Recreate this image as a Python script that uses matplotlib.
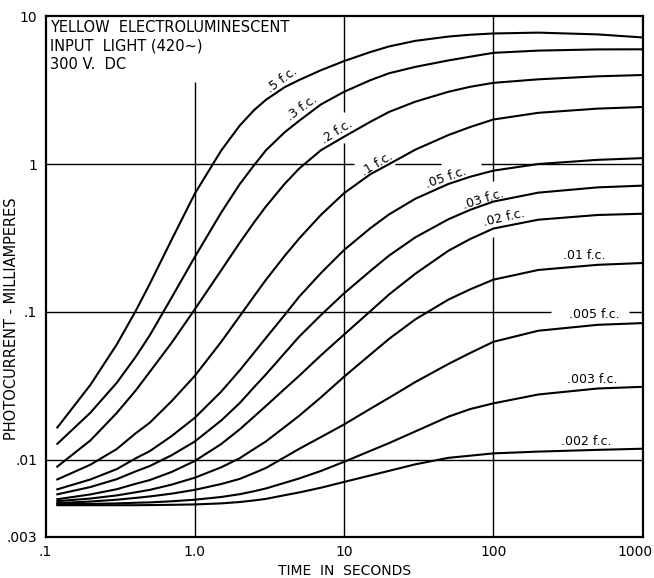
import numpy as np
import matplotlib
matplotlib.use("Agg")
import matplotlib.pyplot as plt
from matplotlib.transforms import ScaledTranslation

# time axis (seconds), shared by all curves
time_s = [0.12, 0.2, 0.3, 0.4, 0.5, 0.7, 1, 1.5, 2, 2.5, 3, 4, 5, 7, 10, 15, 20, 30, 50, 70, 100, 200, 500, 1000]

# photocurrent (mA) for each input light level
fc_05 = [0.0165, 0.0321, 0.0601, 0.1005, 0.155, 0.308, 0.63, 1.23, 1.82, 2.32, 2.72, 3.31, 3.7, 4.31, 4.97, 5.72, 6.24, 6.81, 7.28, 7.49, 7.64, 7.74, 7.53, 7.18]
fc_03 = [0.0128, 0.0208, 0.0331, 0.0493, 0.0695, 0.125, 0.235, 0.468, 0.731, 0.984, 1.24, 1.64, 1.96, 2.53, 3.08, 3.69, 4.11, 4.54, 5.02, 5.32, 5.65, 5.85, 5.96, 5.97]
fc_02 = [0.00898, 0.0135, 0.0207, 0.0292, 0.0393, 0.0618, 0.104, 0.1905, 0.2935, 0.404, 0.517, 0.734, 0.931, 1.24, 1.53, 1.93, 2.25, 2.64, 3.08, 3.33, 3.54, 3.74, 3.92, 4.0]
fc_01 = [0.00735, 0.00925, 0.0118, 0.01503, 0.0178, 0.0249, 0.0369, 0.0625, 0.0935, 0.128, 0.165, 0.239, 0.313, 0.453, 0.635, 0.853, 0.998, 1.25, 1.57, 1.78, 2.0, 2.22, 2.37, 2.43]
fc_005 = [0.0063, 0.00735, 0.00863, 0.01019, 0.01143, 0.01445, 0.0192, 0.0288, 0.0402, 0.0531, 0.0667, 0.0953, 0.1265, 0.183, 0.262, 0.368, 0.456, 0.582, 0.733, 0.82, 0.902, 1.0, 1.067, 1.096]
fc_003 = [0.00583, 0.00653, 0.00738, 0.00832, 0.00906, 0.01072, 0.01327, 0.01837, 0.02415, 0.031, 0.0378, 0.0526, 0.0679, 0.0951, 0.1334, 0.189, 0.240, 0.319, 0.423, 0.49, 0.557, 0.64, 0.695, 0.714]
fc_002 = [0.0054, 0.00582, 0.00631, 0.00686, 0.00728, 0.00826, 0.0098, 0.01274, 0.01603, 0.0196, 0.0231, 0.0301, 0.0369, 0.0508, 0.0702, 0.101, 0.131, 0.181, 0.259, 0.311, 0.366, 0.42, 0.452, 0.461]
fc_001 = [0.00524, 0.00546, 0.00573, 0.00601, 0.00625, 0.00678, 0.00755, 0.00887, 0.01023, 0.01183, 0.0133, 0.01663, 0.0198, 0.0264, 0.0364, 0.0514, 0.0656, 0.0889, 0.121, 0.142, 0.165, 0.192, 0.208, 0.214]
fc_0005 = [0.00508, 0.00521, 0.00536, 0.00551, 0.00564, 0.00589, 0.00625, 0.00684, 0.00741, 0.00813, 0.00879, 0.01039, 0.01183, 0.01422, 0.0173, 0.0221, 0.0262, 0.0335, 0.0444, 0.0527, 0.0627, 0.0745, 0.0817, 0.0839]
fc_0003 = [0.0050, 0.00502, 0.00506, 0.00511, 0.00514, 0.00523, 0.00536, 0.00559, 0.00584, 0.00612, 0.00639, 0.00697, 0.00746, 0.00839, 0.00967, 0.01147, 0.01294, 0.01552, 0.01954, 0.022, 0.02404, 0.0276, 0.0303, 0.0311]
fc_0002 = [0.00492, 0.00492, 0.00492, 0.00492, 0.00493, 0.00495, 0.00498, 0.00506, 0.00517, 0.0053, 0.00543, 0.00575, 0.0060, 0.00646, 0.00707, 0.00782, 0.0084, 0.0093, 0.01029, 0.01064, 0.01103, 0.01134, 0.01165, 0.01186]

series = [fc_05, fc_03, fc_02, fc_01, fc_005, fc_003, fc_002, fc_001, fc_0005, fc_0003, fc_0002]

# curve labels: text, x, y, rotation
labels = [".5 f.c.", ".3 f.c.", ".2 f.c.", ".1 f.c.", ".05 f.c.", ".03 f.c.", ".02 f.c.",
          ".01 f.c.", ".005 f.c.", ".003 f.c.", ".002 f.c."]
label_x = [3.82, 5.2, 8.9, 16.7, 48, 86, 118, 406, 474, 457, 417]
label_y = [3.7, 2.4, 1.64, 1.0, 0.806, 0.58, 0.43, 0.239, 0.096, 0.0348, 0.0132]
label_rot = [36, 36, 32, 31, 19, 17, 13, 0, 0, 0, 0]

xticks = [0.1, 1, 10, 100, 1000]
xticklabels = [".1", "1.0", "10", "100", "1000"]
yticks = [0.003, 0.01, 0.1, 1, 10]
yticklabels = [".003", ".01", ".1", "1", "10"]

fig = plt.figure(figsize=(6.54, 5.78), dpi=100)
ax = fig.add_axes([0.0696, 0.071, 0.913, 0.901])
ax.set_xscale("log")
ax.set_yscale("log")
ax.set_xlim(0.1, 1000)
ax.set_ylim(0.003, 10)

# broken grid lines as drawn on the original sheet
grid_kw = dict(color="black", lw=1.0, zorder=1)
ax.vlines(1, 0.003, 3.6, **grid_kw)
ax.vlines(10, 2.26, 10, **grid_kw)
ax.vlines(10, 0.003, 1.38, **grid_kw)
ax.vlines(100, 0.77, 10, **grid_kw)
ax.vlines(100, 0.003, 0.32, **grid_kw)
ax.hlines(1, 0.1, 11.7, **grid_kw)
ax.hlines(1, 21.8, 44.9, **grid_kw)
ax.hlines(1, 83, 1000, **grid_kw)
ax.hlines(0.1, 0.1, 244, **grid_kw)
ax.hlines(0.1, 813, 1000, **grid_kw)
ax.hlines(0.01, 0.1, 1000, **grid_kw)

for ys in series:
    ax.plot(time_s, ys, color="black", lw=1.5, zorder=2, solid_joinstyle="round")

for t, x, y, r in zip(labels, label_x, label_y, label_rot):
    ax.text(x, y, t, fontsize=9, rotation=r, ha="center", va="center",
            rotation_mode="anchor", zorder=3)

ax.text(0.008, 0.993, "YELLOW  ELECTROLUMINESCENT\nINPUT  LIGHT (420~)\n300 V.  DC",
        transform=ax.transAxes, ha="left", va="top", fontsize=10.5, linespacing=1.3)

ax.set_xticks(xticks)
ax.set_xticklabels(xticklabels)
ax.set_yticks(yticks)
ax.set_yticklabels(yticklabels)
ax.minorticks_off()
ax.tick_params(length=0, labelsize=10, pad=6)
last = ax.get_xticklabels()[-1]
last.set_horizontalalignment("right")
last.set_transform(last.get_transform() + ScaledTranslation(0.1, 0, fig.dpi_scale_trans))

ax.set_xlabel("TIME  IN  SECONDS", fontsize=10)
ax.xaxis.set_label_coords(0.5, -0.052)
ax.set_ylabel("PHOTOCURRENT - MILLIAMPERES", fontsize=10.5)
ax.yaxis.set_label_coords(-0.045, 0.42)

for s in ax.spines.values():
    s.set_linewidth(1.6)

fig.savefig("out.png", dpi=100)
